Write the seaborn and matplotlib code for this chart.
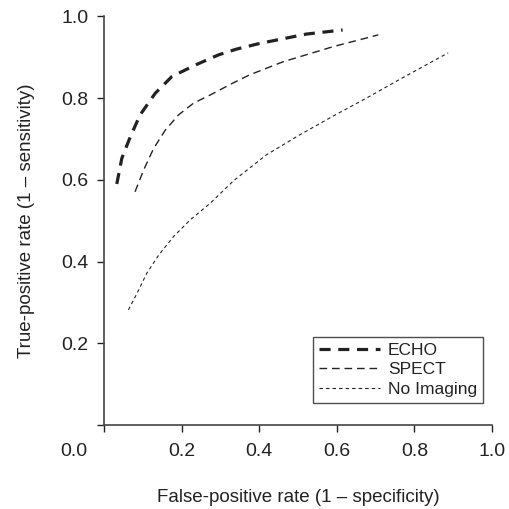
import numpy as np
import pandas as pd
import matplotlib
matplotlib.use('Agg')
import matplotlib.pyplot as plt
import seaborn as sns

# ROC curves
echo_fpr = [0.033, 0.046, 0.068, 0.093, 0.132, 0.175, 0.235, 0.295, 0.341, 0.401, 0.522, 0.615]
echo_tpr = [0.590, 0.653, 0.706, 0.759, 0.812, 0.853, 0.881, 0.906, 0.920, 0.934, 0.957, 0.967]

spect_fpr = [0.080, 0.102, 0.128, 0.158, 0.192, 0.231, 0.274, 0.330, 0.375, 0.461, 0.590, 0.707]
spect_tpr = [0.571, 0.624, 0.677, 0.722, 0.759, 0.788, 0.808, 0.836, 0.857, 0.889, 0.926, 0.955]

noimg_fpr = [0.063, 0.085, 0.110, 0.141, 0.179, 0.222, 0.274, 0.334, 0.418, 0.504, 0.590, 0.676, 0.762, 0.887]
noimg_tpr = [0.282, 0.322, 0.371, 0.416, 0.461, 0.502, 0.543, 0.598, 0.661, 0.710, 0.756, 0.800, 0.846, 0.911]

tick_vals = [0.0, 0.2, 0.4, 0.6, 0.8, 1.0]
tick_labels = ['', '0.2', '0.4', '0.6', '0.8', '1.0']

sns.set_style('white')
plt.rcParams['font.family'] = ['Liberation Sans', 'DejaVu Sans']
plt.rcParams['lines.scale_dashes'] = False
ink = '#222222'

fig = plt.figure(figsize=(5.09, 5.09), dpi=100)
ax = fig.add_axes([0.2043, 0.165, 0.7623, 0.8026])

#one lineplot per curve so each keeps its own dash pattern
sns.lineplot(x=echo_fpr, y=echo_tpr, sort=False, ax=ax, color=ink, lw=2.3,
             linestyle=(0, (8, 5.5)), label='ECHO')
sns.lineplot(x=spect_fpr, y=spect_tpr, sort=False, ax=ax, color=ink, lw=1.0,
             linestyle=(0, (5.5, 3.5)), label='SPECT')
sns.lineplot(x=noimg_fpr, y=noimg_tpr, sort=False, ax=ax, color=ink, lw=0.8,
             linestyle=(0, (2.5, 2.2)), label='No Imaging')

ax.set_xlim(0, 1)
ax.set_ylim(0, 1)
ax.set_xticks(tick_vals)
ax.set_xticklabels(tick_labels)
ax.set_yticks(tick_vals)
ax.set_yticklabels(tick_labels)
ax.tick_params(axis='both', direction='out', length=5, width=1, colors=ink,
               labelsize=14, bottom=True, left=True)
ax.tick_params(axis='x', pad=8)
ax.tick_params(axis='y', pad=6)
for lab in ax.get_xticklabels() + ax.get_yticklabels():
    lab.set_color(ink)

sns.despine(ax=ax)
for side in ['left', 'bottom']:
    ax.spines[side].set_color('#444444')
    ax.spines[side].set_linewidth(1.2)

# shared origin label sits diagonally off the corner
ax.text(-0.077, -0.066, '0.0', transform=ax.transAxes, ha='center', va='center',
        fontsize=14, color=ink)

ax.set_xlabel('False-positive rate (1 \u2013 specificity)', fontsize=13.5, color=ink, labelpad=21)
ax.set_ylabel('True-positive rate (1 \u2013 sensitivity)', fontsize=13.5, color=ink, labelpad=19)

leg = ax.legend(loc='lower right', bbox_to_anchor=(0.977, 0.054), fontsize=12.5,
                frameon=True, fancybox=False, edgecolor=ink, handlelength=3.5,
                handletextpad=0.45, labelspacing=0.25, borderpad=0.35, borderaxespad=0)
leg.get_frame().set_linewidth(1.0)
for t in leg.get_texts():
    t.set_color(ink)

plt.savefig('out.png', dpi=100)
